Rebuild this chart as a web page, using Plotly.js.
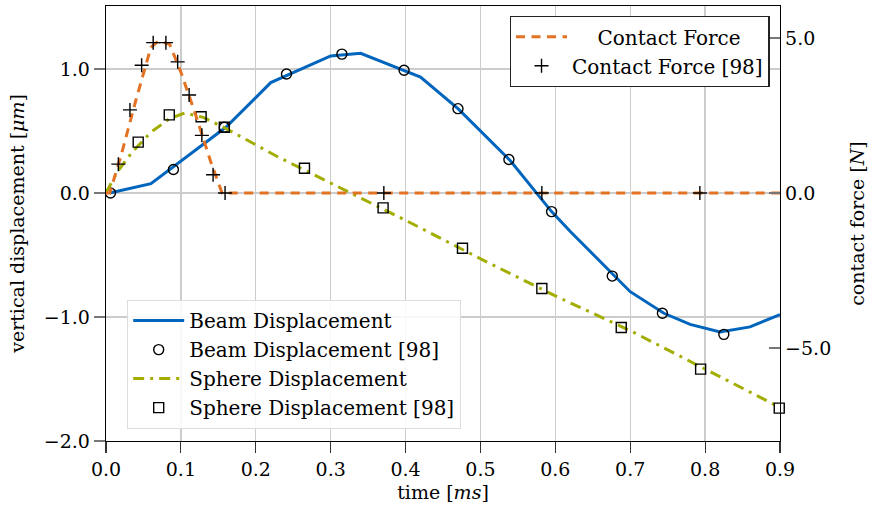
<!DOCTYPE html>
<html>
<head>
<meta charset="utf-8">
<script src="https://cdn.plot.ly/plotly-3.0.1.min.js"></script>
<style>html,body{margin:0;padding:0;background:#fff;} #chart{width:874px;height:512px;}</style>
</head>
<body>
<div id="chart"></div>
<script>
// Simulation: beam displacement (µm)
const beamT = [0.005, 0.06, 0.16, 0.22, 0.30, 0.34, 0.42, 0.47, 0.54, 0.595, 0.62, 0.70, 0.745, 0.78, 0.82, 0.86, 0.9];
const beamY = [0.0, 0.075, 0.53, 0.89, 1.105, 1.126, 0.935, 0.68, 0.26, -0.15, -0.31, -0.796, -0.97, -1.06, -1.12, -1.08, -0.98];
// Reference [98]: beam displacement
const beamRefT = [0.006, 0.090, 0.158, 0.241, 0.315, 0.398, 0.470, 0.538, 0.595, 0.676, 0.743, 0.825];
const beamRefY = [0.0, 0.19, 0.53, 0.96, 1.12, 0.99, 0.68, 0.27, -0.15, -0.67, -0.97, -1.14];
// Simulation: sphere displacement (µm)
const sphereT = [0.0, 0.015, 0.035, 0.06, 0.085, 0.105, 0.13, 0.16, 0.23, 0.31, 0.4, 0.5, 0.6, 0.7, 0.8, 0.9];
const sphereY = [0.0, 0.17, 0.33, 0.49, 0.6, 0.645, 0.61, 0.52, 0.29, 0.05, -0.22, -0.53, -0.83, -1.11, -1.42, -1.73];
// Reference [98]: sphere displacement
const sphereRefT = [0.043, 0.0845, 0.127, 0.158, 0.265, 0.370, 0.476, 0.582, 0.688, 0.794, 0.899];
const sphereRefY = [0.41, 0.63, 0.615, 0.53, 0.20, -0.12, -0.445, -0.77, -1.085, -1.42, -1.735];
// Simulation: contact force (N)
const forceT = [0.0, 0.005, 0.02, 0.04, 0.06, 0.07, 0.085, 0.10, 0.12, 0.14, 0.155, 0.9];
const forceF = [0.0, 0.0, 1.2, 3.0, 4.7, 4.9, 4.8, 3.9, 2.5, 1.0, 0.0, 0.0];
// Reference [98]: contact force
const forceRefT = [0.0165, 0.032, 0.0476, 0.063, 0.080, 0.0957, 0.111, 0.128, 0.143, 0.159, 0.371, 0.582, 0.793];
const forceRefF = [0.93, 2.68, 4.12, 4.85, 4.85, 4.23, 3.16, 1.86, 0.59, 0.0, 0.0, 0.0, 0.0];

const xTicks = [0, 0.1, 0.2, 0.3, 0.4, 0.5, 0.6, 0.7, 0.8, 0.9];
const yTicks = [-2, -1, 0, 1];
const y2Ticks = [-5, 0, 5];

const BLUE = '#0065BD', ORANGE = '#E37222', GREEN = '#A2AD00';
const FONT = 'DejaVu Serif';
const NB = '\u00a0';

const traces = [
  {x: beamT, y: beamY, mode: 'lines', name: 'Beam Displacement', legend: 'legend2',
   line: {color: BLUE, width: 3}},
  {x: beamRefT, y: beamRefY, mode: 'markers', name: 'Beam Displacement [98]', legend: 'legend2', cliponaxis: false,
   marker: {symbol: 'circle-open', size: 10, color: '#000', line: {width: 1.4, color: '#000'}}},
  {x: sphereT, y: sphereY, mode: 'lines', name: 'Sphere Displacement', legend: 'legend2',
   line: {color: GREEN, width: 3, dash: '11px,6px,3px,6px'}},
  {x: sphereRefT, y: sphereRefY, mode: 'markers', name: 'Sphere Displacement [98]', legend: 'legend2', cliponaxis: false,
   marker: {symbol: 'square-open', size: 10, color: '#000', line: {width: 1.4, color: '#000'}}},
  {x: forceT, y: forceF, yaxis: 'y2', mode: 'lines', name: NB+NB+NB+NB+'Contact Force', legend: 'legend',
   line: {color: ORANGE, width: 3, dash: '9px,6.5px'}},
  {x: forceRefT, y: forceRefF, yaxis: 'y2', mode: 'markers', name: 'Contact Force [98]', legend: 'legend', cliponaxis: false,
   marker: {symbol: 'cross-thin-open', size: 10, color: '#000', line: {width: 1.4, color: '#000'}}}
];

const layout = {
  width: 874, height: 512,
  margin: {l: 106, r: 94, t: 6, b: 71, pad: 0},
  paper_bgcolor: '#fff', plot_bgcolor: '#fff',
  font: {family: FONT, size: 19, color: '#000'},
  showlegend: true,
  xaxis: {
    range: [0, 0.9], tickvals: xTicks, tickformat: '.1f',
    showgrid: true, gridcolor: '#cccccc', gridwidth: 1.3,
    showline: true, linecolor: '#000', linewidth: 1.3, mirror: true,
    ticks: 'outside', ticklen: 11, tickcolor: '#333', tickwidth: 1.2,
    zeroline: false, automargin: false, tickfont: {family: FONT, size: 19},
    title: {text: 'time [<i>ms</i>]', standoff: 6, font: {family: FONT, size: 19}}
  },
  yaxis: {
    range: [-2, 1.508], tickvals: yTicks, tickformat: '.1f',
    showgrid: true, gridcolor: '#cccccc', gridwidth: 1.3,
    showline: true, linecolor: '#000', linewidth: 1.3,
    ticks: 'outside', ticklen: 11, tickcolor: '#777', tickwidth: 1.2,
    zeroline: false, automargin: false, tickfont: {family: FONT, size: 19},
    title: {text: 'vertical displacement [<i>μm</i>]', standoff: 14, font: {family: FONT, size: 19}}
  },
  yaxis2: {
    overlaying: 'y', side: 'right', anchor: 'x',
    range: [-8, 6.032], tickvals: y2Ticks, tickformat: '.1f',
    showgrid: false, showline: true, linecolor: '#000', linewidth: 1.3,
    ticks: 'inside', ticklen: 11, tickcolor: '#777', tickwidth: 1.2,
    zeroline: false, automargin: false, tickfont: {family: FONT, size: 19},
    title: {text: 'contact force [<i>N</i>]', standoff: 20, font: {family: FONT, size: 19}}
  },
  legend: {
    x: 0.599, y: 0.977, xanchor: 'left', yanchor: 'top',
    bgcolor: '#fff', bordercolor: '#222', borderwidth: 1.3, itemwidth: 51,
    font: {family: FONT, size: 20}, tracegroupgap: 0
  },
  legend2: {
    x: 0.031, y: 0.028, xanchor: 'left', yanchor: 'bottom',
    bgcolor: 'rgba(255,255,255,0.85)', bordercolor: '#dddddd', borderwidth: 1.3, itemwidth: 51,
    font: {family: FONT, size: 20}, tracegroupgap: 0
  }
};

Plotly.newPlot('chart', traces, layout, {staticPlot: true, displayModeBar: false});
</script>
</body>
</html>
